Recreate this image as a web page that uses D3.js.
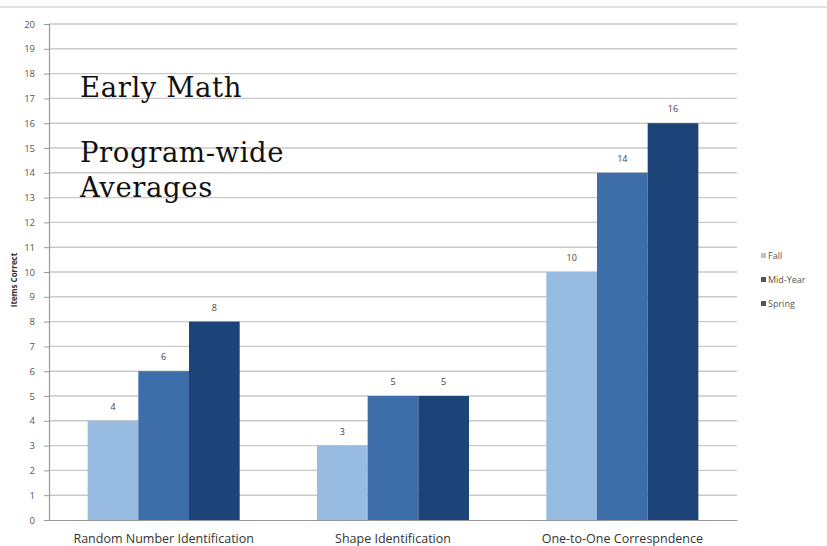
<!DOCTYPE html>
<html>
<head>
<meta charset="utf-8">
<script src="https://cdn.jsdelivr.net/npm/d3@7"></script>
<style>
body { margin: 0; background: #fff; }
svg { display: block; }
.grid line { stroke: #c9c9c9; stroke-width: 1.4; }
.tick text { font-family: 'Open Sans', sans-serif; }
</style>
</head>
<body>
<div id="chart"></div>
<script>
var categories = ['Random Number Identification', 'Shape Identification', 'One-to-One Correspndence']
var seasons = ['Fall', 'Mid-Year', 'Spring']
var fallVals = [4, 3, 10]
var midVals = [6, 5, 14]
var springVals = [8, 5, 16]
var yTicks = d3.range(0, 21)
var colors = ['#98bbe2', '#3d6ea9', '#1d4479']

var width = 827, height = 546
var plotL = 49, plotR = 737, plotT = 24, plotB = 520

var svg = d3.select('#chart').append('svg').attr('width', width).attr('height', height)

// thin frame line at the top
svg.append('line').attr('x1', 0).attr('x2', width).attr('y1', 7).attr('y2', 7)
	.style('stroke', '#d6d6d6').style('stroke-width', 1.5)

var y = d3.scaleLinear().domain([0, 20]).range([plotB, plotT])
var x0 = d3.scaleBand().domain(categories).range([plotL, plotR]).paddingInner(0.337).paddingOuter(0.1685)
var x1 = d3.scaleBand().domain(seasons).range([0, x0.bandwidth()])

// gridlines
var grid = svg.append('g').attr('class', 'grid')
yTicks.forEach(function(t){
	if (t == 0) return
	grid.append('line').attr('x1', plotL).attr('x2', plotR).attr('y1', y(t)).attr('y2', y(t))
})

// y axis
var yAxis = svg.append('g').attr('transform', 'translate(' + plotL + ',0)')
	.call(d3.axisLeft(y).tickValues(yTicks).tickSize(5).tickPadding(9))
yAxis.select('.domain').style('stroke', '#999').style('stroke-width', 1.2)
yAxis.selectAll('.tick line').style('stroke', '#999')
yAxis.selectAll('.tick text').style('font-size', '9.5px').style('fill', '#555')

svg.append('text').text('Items Correct')
	.attr('transform', 'translate(17,' + (y(10) + 8) + ') rotate(-90)')
	.attr('text-anchor', 'middle')
	.style('font-family', "'Open Sans', sans-serif")
	.style('font-size', '8px').style('font-weight', 'bold').style('fill', '#333')

// bars
var series = [fallVals, midVals, springVals]
var bars = svg.append('g')
categories.forEach(function(c, ci){
	var g = bars.append('g').attr('transform', 'translate(' + x0(c) + ',0)')
	seasons.forEach(function(s, si){
		var v = series[si][ci]
		g.append('rect').attr('x', x1(s)).attr('y', y(v))
			.attr('width', x1.bandwidth()).attr('height', y(0) - y(v))
			.style('fill', colors[si])
		g.append('text').text(v).attr('x', x1(s) + x1.bandwidth() / 2).attr('y', y(v) - 11)
			.attr('text-anchor', 'middle')
			.style('font-family', "'Open Sans', sans-serif")
			.style('font-size', '9px').style('fill', '#444')
	})
})

// title text box
var title = svg.append('g').style('font-family', "'DejaVu Serif', serif").style('font-size', '27.5px')
	.style('letter-spacing', '0.6px').style('fill', '#111')
title.append('text').attr('x', 80).attr('y', 97).text('Early Math')
title.append('text').attr('x', 80).attr('y', 162).text('Program-wide')
title.append('text').attr('x', 80).attr('y', 197).text('Averages')

// x axis
var xAxis = svg.append('g').attr('transform', 'translate(0,' + plotB + ')')
	.call(d3.axisBottom(x0).tickSize(0).tickPadding(14))
xAxis.select('.domain').style('stroke', '#999').style('stroke-width', 1.2)
xAxis.selectAll('.tick text').style('font-size', '12.5px').style('fill', '#333')

// legend
var legend = svg.append('g')
seasons.forEach(function(s, i){
	var ly = 259 + i * 24
	legend.append('rect').attr('x', 761).attr('y', ly - 6).attr('width', 5).attr('height', 5)
		.style('fill', i == 0 ? '#b5c5d8' : '#555')
	legend.append('text').text(s).attr('x', 768).attr('y', ly)
		.style('font-family', "'Open Sans', sans-serif")
		.style('font-size', '9px').style('fill', '#555')
})
</script>
</body>
</html>
